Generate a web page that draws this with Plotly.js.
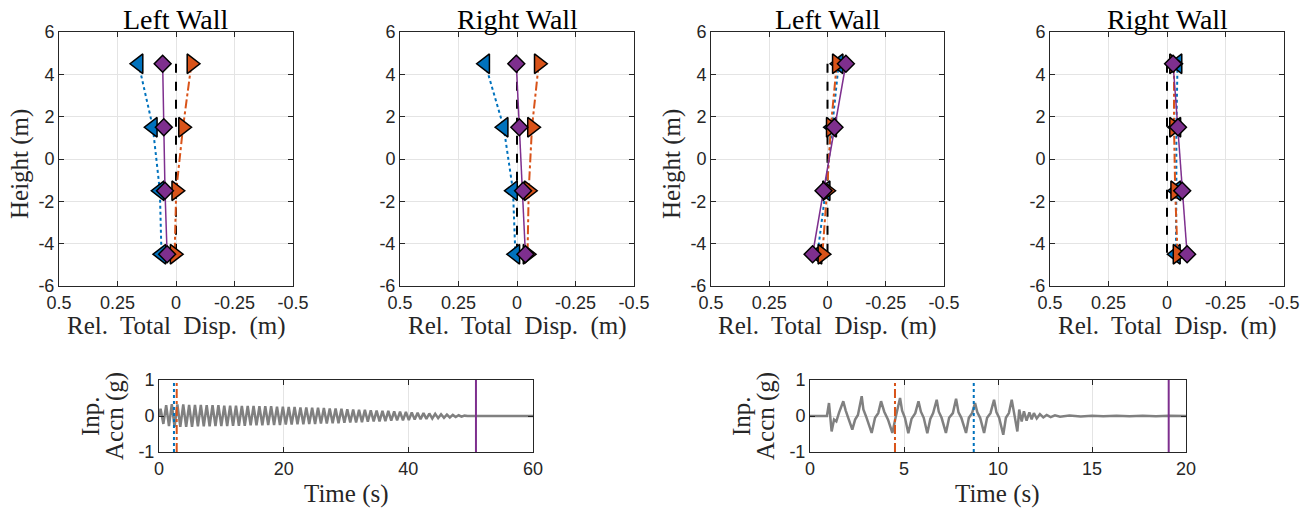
<!DOCTYPE html>
<html>
<head>
<meta charset="utf-8">
<script src="https://cdn.plot.ly/plotly-3.0.1.min.js"></script>
<style>html,body{margin:0;padding:0;background:#fff}#chart{width:1312px;height:510px}</style>
</head>
<body>
<div id="chart"></div>
<script>
// ---- Data ----
const heights = [4.5, 1.5, -1.5, -4.5];
const panelTitles = ["Left Wall", "Right Wall", "Left Wall", "Right Wall"];
// Relative total displacement (m) per panel
const refDisp    = [[0, 0, 0, 0], [0, 0, 0, 0], [0, 0, 0, 0], [0, 0, 0, 0]];
const blueDisp   = [[0.16, 0.099, 0.069, 0.062], [0.136, 0.057, 0.017, 0.007], [-0.048, -0.02, 0.008, 0.043], [-0.045, -0.04, -0.04, -0.038]];
const orangeDisp = [[-0.066, -0.03, -0.001, 0.006], [-0.093, -0.064, -0.05, -0.045], [-0.04, -0.014, 0.002, 0.022], [-0.03, -0.03, -0.035, -0.045]];
const purpleDisp = [[0.057, 0.052, 0.047, 0.038], [0.003, -0.01, -0.026, -0.036], [-0.079, -0.03, 0.017, 0.064], [-0.026, -0.047, -0.065, -0.086]];
const dispTicks = [0.5, 0.25, 0, -0.25, -0.5];
const dispTickText = ["0.5", "0.25", "0", "-0.25", "-0.5"];
const heightTicks = [-6, -4, -2, 0, 2, 4, 6];
const heightTickText = ["-6", "-4", "-2", "0", "2", "4", "6"];

// Input acceleration, record 1 (0-60 s)
const time1 = [0, 0.25, 0.7, 1.15, 1.6, 2.05, 2.5, 2.95, 3.42, 3.89, 4.36, 4.83, 5.3, 5.77, 6.24, 6.71, 7.18, 7.65, 8.12, 8.59, 9.06, 9.53, 10.0, 10.47, 10.94, 11.41, 11.88, 12.35, 12.82, 13.29, 13.76, 14.23, 14.7, 15.17, 15.64, 16.11, 16.58, 17.05, 17.52, 17.99, 18.46, 18.93, 19.4, 19.87, 20.34, 20.81, 21.28, 21.75, 22.22, 22.69, 23.16, 23.63, 24.1, 24.57, 25.04, 25.51, 25.98, 26.45, 26.92, 27.39, 27.86, 28.33, 28.8, 29.27, 29.74, 30.21, 30.68, 31.15, 31.62, 32.09, 32.56, 33.03, 33.5, 33.97, 34.44, 34.91, 35.38, 35.85, 36.32, 36.79, 37.26, 37.73, 38.2, 38.67, 39.14, 39.61, 40.08, 40.55, 41.02, 41.49, 41.96, 42.43, 42.9, 43.37, 43.84, 44.31, 44.78, 45.25, 45.72, 46.19, 46.66, 47.13, 47.6, 48.07, 48.54, 49.01, 49.5, 60];
const accn1 = [0, 0.2, -0.22, 0.3, -0.28, 0.33, -0.3, 0.32, -0.3, 0.32, -0.3, 0.31, -0.3, 0.31, -0.29, 0.31, -0.29, 0.3, -0.29, 0.3, -0.28, 0.3, -0.28, 0.29, -0.28, 0.29, -0.27, 0.29, -0.27, 0.28, -0.27, 0.28, -0.26, 0.28, -0.26, 0.27, -0.26, 0.27, -0.25, 0.27, -0.25, 0.26, -0.25, 0.26, -0.24, 0.25, -0.24, 0.25, -0.23, 0.24, -0.23, 0.24, -0.22, 0.23, -0.22, 0.23, -0.21, 0.22, -0.21, 0.21, -0.2, 0.21, -0.2, 0.2, -0.19, 0.19, -0.18, 0.18, -0.18, 0.17, -0.17, 0.17, -0.16, 0.16, -0.15, 0.15, -0.15, 0.14, -0.14, 0.14, -0.13, 0.13, -0.12, 0.12, -0.12, 0.11, -0.11, 0.1, -0.1, 0.09, -0.09, 0.08, -0.08, 0.07, -0.07, 0.06, -0.06, 0.05, -0.05, 0.04, -0.04, 0.03, -0.03, 0.02, -0.02, 0.01, 0, 0];
const markers1 = {blue: 2.4, orange: 2.84, purple: 50.85};

// Input acceleration, record 2 (0-20 s)
const time2 = [0, 0.9, 1.01, 1.15, 1.28, 1.4, 1.55, 1.77, 1.9, 2.05, 2.25, 2.4, 2.55, 2.75, 2.84, 3.01, 3.28, 3.46, 3.63, 3.78, 3.95, 4.15, 4.38, 4.55, 4.79, 4.9, 5.05, 5.23, 5.4, 5.6, 5.77, 5.9, 6.05, 6.24, 6.4, 6.55, 6.74, 6.85, 7.0, 7.23, 7.4, 7.6, 7.77, 7.9, 8.05, 8.3, 8.45, 8.62, 8.78, 8.9, 9.05, 9.26, 9.42, 9.6, 9.79, 9.92, 10.06, 10.28, 10.42, 10.58, 10.73, 10.85, 11.03, 11.13, 11.26, 11.38, 11.52, 11.67, 11.79, 11.91, 12.06, 12.23, 12.41, 12.59, 12.8, 13.03, 13.3, 13.8, 14.4, 15.0, 15.6, 16.3, 17.0, 17.7, 18.4, 19.1, 20];
const accn2 = [0, 0, 0.36, -0.43, -0.1, -0.15, 0.1, 0.41, 0.15, -0.1, -0.38, -0.1, 0.03, 0.55, 0.18, -0.05, -0.47, -0.05, 0.08, 0.41, 0.12, -0.1, -0.47, -0.05, 0.5, 0.15, -0.05, -0.48, -0.08, 0.08, 0.41, 0.12, -0.05, -0.48, -0.08, 0.08, 0.45, 0.12, -0.05, -0.47, -0.05, 0.08, 0.48, 0.1, -0.05, -0.47, -0.05, 0.08, 0.36, 0.1, -0.05, -0.47, -0.05, 0.08, 0.45, 0.1, -0.05, -0.52, -0.05, 0.08, 0.45, 0.1, -0.43, 0.18, -0.15, 0.13, -0.13, 0.1, -0.09, 0.08, -0.07, 0.05, -0.04, 0.03, -0.03, 0.02, -0.02, 0.015, -0.015, 0.01, -0.01, 0.01, -0.01, 0.01, -0.01, 0.005, 0];
const markers2 = {blue: 8.71, orange: 4.52, purple: 19.08};

const accTicks = [-1, 0, 1];
const accTickText = ["-1", "0", "1"];
const time1Ticks = [0, 20, 40, 60];
const time2Ticks = [0, 5, 10, 15, 20];

// ---- Styles ----
const W = 1312, H = 510;
const BLUE = "#0072BD", ORANGE = "#D95319", PURPLE = "#7E2F8E", GREY = "#808080";
const AX = "#262626";
const SANS = "Liberation Sans, Arial, sans-serif";
const SERIF = "Liberation Serif, Times New Roman, serif";

const topX = [[59, 293], [400, 634], [711, 944], [1050, 1284]];
const topY = [32, 286];
const botX = [[159, 533], [810, 1186]];
const botY = [380, 452];

function px(a, b) { return [a / W, b / W]; }
function py(top, bottom) { return [1 - bottom / H, 1 - top / H]; }

function baseAxis() {
  return {
    showline: true, mirror: "ticks", linecolor: AX, linewidth: 1,
    ticks: "inside", ticklen: 5, tickwidth: 1, tickcolor: AX,
    showgrid: true, gridcolor: "#e4e4e4", gridwidth: 1, zeroline: false,
    tickfont: {family: SANS, size: 18, color: AX}, fixedrange: true
  };
}

const traces = [];
const layout = {
  width: W, height: H, margin: {l: 0, r: 0, t: 0, b: 0},
  paper_bgcolor: "#fff", plot_bgcolor: "#fff", showlegend: false,
  annotations: []
};

for (let p = 0; p < 4; p++) {
  const n = p + 1;
  const xa = "x" + (n === 1 ? "" : n), ya = "y" + (n === 1 ? "" : n);
  const xkey = "xaxis" + (n === 1 ? "" : n), ykey = "yaxis" + (n === 1 ? "" : n);
  layout[xkey] = Object.assign(baseAxis(), {
    domain: px(topX[p][0], topX[p][1]), anchor: ya, range: [0.5, -0.5],
    tickmode: "array", tickvals: dispTicks, ticktext: dispTickText
  });
  layout[ykey] = Object.assign(baseAxis(), {
    domain: py(topY[0], topY[1]), anchor: xa, range: [-6, 6],
    tickmode: "array", tickvals: heightTicks, ticktext: heightTickText
  });
  traces.push({x: refDisp[p], y: heights, xaxis: xa, yaxis: ya, mode: "lines",
    line: {color: "#000", width: 2, dash: "dash"}});
  traces.push({x: blueDisp[p], y: heights, xaxis: xa, yaxis: ya, mode: "lines+markers",
    line: {color: BLUE, width: 2, dash: "dot"},
    marker: {symbol: "triangle-left", size: 17, color: BLUE, line: {color: "#000", width: 1.5}}});
  traces.push({x: orangeDisp[p], y: heights, xaxis: xa, yaxis: ya, mode: "lines+markers",
    line: {color: ORANGE, width: 2, dash: "dashdot"},
    marker: {symbol: "triangle-right", size: 17, color: ORANGE, line: {color: "#000", width: 1.5}}});
  traces.push({x: purpleDisp[p], y: heights, xaxis: xa, yaxis: ya, mode: "lines+markers",
    line: {color: PURPLE, width: 1.5},
    marker: {symbol: "diamond", size: 13, color: PURPLE, line: {color: "#000", width: 1.5}}});

  const cx = (topX[p][0] + topX[p][1]) / 2 / W;
  layout.annotations.push({text: panelTitles[p], xref: "paper", yref: "paper", x: cx, y: 1 - 20 / H,
    xanchor: "center", yanchor: "middle", showarrow: false, font: {family: SERIF, size: 28, color: "#000"}});
  layout.annotations.push({text: "Rel.  Total  Disp.  (m)", xref: "paper", yref: "paper", x: cx, y: 1 - 326 / H,
    xanchor: "center", yanchor: "middle", showarrow: false, font: {family: SERIF, size: 25, color: "#262626"}});
  if (p === 0 || p === 2) {
    layout.annotations.push({text: "Height (m)", xref: "paper", yref: "paper",
      x: (p === 0 ? 20 : 672) / W, y: 1 - 164 / H, textangle: -90,
      xanchor: "center", yanchor: "middle", showarrow: false, font: {family: SERIF, size: 25, color: "#262626"}});
  }
}

const bot = [
  {t: time1, a: accn1, m: markers1, ticks: time1Ticks, range: [0, 60]},
  {t: time2, a: accn2, m: markers2, ticks: time2Ticks, range: [0, 20]}
];
for (let b = 0; b < 2; b++) {
  const n = b + 5;
  const xa = "x" + n, ya = "y" + n;
  layout["xaxis" + n] = Object.assign(baseAxis(), {
    domain: px(botX[b][0], botX[b][1]), anchor: ya, range: bot[b].range,
    tickmode: "array", tickvals: bot[b].ticks, ticktext: bot[b].ticks.map(String)
  });
  layout["yaxis" + n] = Object.assign(baseAxis(), {
    domain: py(botY[0], botY[1]), anchor: xa, range: [-1, 1],
    tickmode: "array", tickvals: accTicks, ticktext: accTickText
  });
  traces.push({x: bot[b].t, y: bot[b].a, xaxis: xa, yaxis: ya, mode: "lines",
    line: {color: GREY, width: 2.5}});
  traces.push({x: [bot[b].m.blue, bot[b].m.blue], y: [-1, 1], xaxis: xa, yaxis: ya, mode: "lines",
    line: {color: BLUE, width: 2, dash: "dot"}});
  traces.push({x: [bot[b].m.orange, bot[b].m.orange], y: [-1, 1], xaxis: xa, yaxis: ya, mode: "lines",
    line: {color: ORANGE, width: 2, dash: "dashdot"}});
  traces.push({x: [bot[b].m.purple, bot[b].m.purple], y: [-1, 1], xaxis: xa, yaxis: ya, mode: "lines",
    line: {color: PURPLE, width: 2}});

  const cx = (botX[b][0] + botX[b][1]) / 2 / W;
  layout.annotations.push({text: "Time (s)", xref: "paper", yref: "paper", x: cx, y: 1 - 494 / H,
    xanchor: "center", yanchor: "middle", showarrow: false, font: {family: SERIF, size: 25, color: "#262626"}});
  layout.annotations.push({text: "Inp.", xref: "paper", yref: "paper", x: (botX[b][0] - 69) / W, y: 1 - 416 / H,
    textangle: -90, xanchor: "center", yanchor: "middle", showarrow: false, font: {family: SERIF, size: 25, color: "#262626"}});
  layout.annotations.push({text: "Accn (g)", xref: "paper", yref: "paper", x: (botX[b][0] - 44) / W, y: 1 - 416 / H,
    textangle: -90, xanchor: "center", yanchor: "middle", showarrow: false, font: {family: SERIF, size: 25, color: "#262626"}});
}

Plotly.newPlot("chart", traces, layout, {staticPlot: true, displayModeBar: false});
</script>
</body>
</html>
